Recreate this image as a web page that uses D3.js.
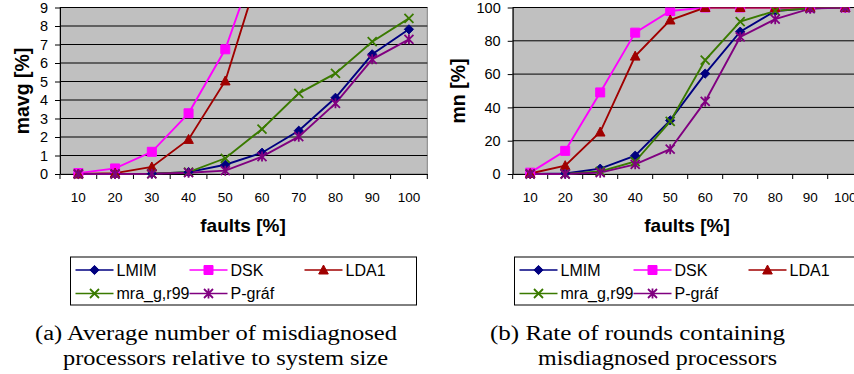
<!DOCTYPE html>
<html>
<head>
<meta charset="utf-8">
<script src="https://cdn.jsdelivr.net/npm/d3@7"></script>
<style>
  body { margin: 0; background: #fff; }
  svg { display: block; }
  text { font-family: "Liberation Sans", Arial, sans-serif; }
</style>
</head>
<body>
<div id="chart"></div>
<script>
// data
var faults = [10, 20, 30, 40, 50, 60, 70, 80, 90, 100];
var seriesNames = ["LMIM", "DSK", "LDA1", "mra_g,r99", "P-gráf"];
var seriesColors = ["#000080", "#ff00ff", "#a00000", "#3a7a00", "#800080"];
var seriesMarks = ["diamond", "square", "triangle", "cross", "star"];

// (a) mavg [%]
var mavgLMIM = [0, 0, 0.02, 0.1, 0.5, 1.15, 2.34, 4.12, 6.47, 7.82];
var mavgDSK  = [0.05, 0.3, 1.2, 3.28, 6.74, 12.4, 18, 24, 30, 36];
var mavgLDA1 = [0, 0.05, 0.38, 1.87, 5.03, 11.4, 17, 23, 29, 35];
var mavgMra  = [0, 0, 0.02, 0.1, 0.85, 2.43, 4.36, 5.44, 7.15, 8.41];
var mavgPgraf = [0, 0, 0.01, 0.07, 0.18, 0.94, 2.02, 3.82, 6.2, 7.28];
var mavgTicks = [0, 1, 2, 3, 4, 5, 6, 7, 8, 9];

// (b) mn [%]
var mnLMIM = [0, 0.3, 3.2, 11, 32.2, 60.3, 85.5, 97.9, 99.5, 100];
var mnDSK  = [0.8, 13.9, 49, 84.9, 97.9, 100, 100, 100, 100, 100];
var mnLDA1 = [0.3, 5, 25.2, 70.8, 92.5, 100, 100, 100, 100, 100];
var mnMra  = [0, 0, 1.5, 7.5, 31.6, 68.4, 91.5, 98, 99.5, 100];
var mnPgraf = [0, 0, 0.8, 5.8, 14.9, 43.6, 82.3, 93, 99.3, 100];
var mnTicks = [0, 20, 40, 60, 80, 100];

var svg = d3.select("#chart").append("svg")
  .attr("width", 854)
  .attr("height", 374);

function markPath(kind) {
  if (kind == "diamond") return "M0,-4.6L4.6,0L0,4.6L-4.6,0Z";
  if (kind == "square") return "M-4.5,-4.5H4.5V4.5H-4.5Z";
  if (kind == "triangle") return "M0,-5L4.8,4H-4.8Z";
  if (kind == "cross") return "M-4.5,-4.5L4.5,4.5M4.5,-4.5L-4.5,4.5";
  return "M-4.5,-4.5L4.5,4.5M4.5,-4.5L-4.5,4.5M0,-5V5";
}

function drawMark(g, kind, color, px, py) {
  var filled = kind == "diamond" || kind == "square" || kind == "triangle";
  g.append("path")
    .attr("transform", "translate(" + px + "," + py + ")")
    .attr("d", markPath(kind))
    .attr("fill", filled ? color : "none")
    .attr("stroke", color)
    .attr("stroke-width", filled ? 1 : 1.8);
}

function drawChart(opt) {
  var x = d3.scaleBand()
    .domain(faults)
    .range([opt.left, opt.right])
    .padding(0);
  var y = d3.scaleLinear()
    .domain([0, opt.max])
    .range([174, 7.5]);

  var g = svg.append("g");

  // plot background
  g.append("rect")
    .attr("x", opt.left)
    .attr("y", y(opt.max))
    .attr("width", opt.right - opt.left)
    .attr("height", y(0) - y(opt.max))
    .attr("fill", "#c0c0c0")
    .attr("stroke", "#808080")
    .attr("stroke-width", 1);

  // gridlines
  g.selectAll(".grid")
    .data(opt.ticks.slice(1))
    .enter().append("line")
    .attr("x1", opt.left)
    .attr("x2", opt.right)
    .attr("y1", function (d) { return y(d); })
    .attr("y2", function (d) { return y(d); })
    .attr("stroke", "#000")
    .attr("stroke-width", 1);

  // y axis
  var ya = g.append("g")
    .attr("transform", "translate(" + opt.left + ",0)")
    .call(d3.axisLeft(y).tickValues(opt.ticks).tickSizeInner(5).tickSizeOuter(0).tickPadding(7));
  ya.select(".domain").attr("stroke", "#000");
  ya.selectAll("text").attr("font-size", 14.5).attr("font-family", "Liberation Sans, Arial, sans-serif");

  // x axis: labels at band centres, ticks at band edges
  var xa = g.append("g")
    .attr("transform", "translate(0," + y(0) + ")")
    .call(d3.axisBottom(x).tickSize(0).tickPadding(18));
  xa.select(".domain").attr("stroke", "#000");
  xa.selectAll("text").attr("font-size", 13.5).attr("font-family", "Liberation Sans, Arial, sans-serif");
  var edges = faults.map(function (d) { return x(d); }).concat([opt.right]);
  g.selectAll(".xt")
    .data(edges)
    .enter().append("line")
    .attr("x1", function (d) { return d; })
    .attr("x2", function (d) { return d; })
    .attr("y1", y(0))
    .attr("y2", y(0) + 5)
    .attr("stroke", "#000");

  // series
  var clipId = "clip" + opt.id;
  svg.append("clipPath").attr("id", clipId)
    .append("rect")
    .attr("x", opt.left - 8)
    .attr("y", y(opt.max))
    .attr("width", opt.right - opt.left + 16)
    .attr("height", y(0) - y(opt.max) + 8);

  var plot = g.append("g").attr("clip-path", "url(#" + clipId + ")");
  var line = d3.line()
    .x(function (d, i) { return x(faults[i]) + x.bandwidth() / 2; })
    .y(function (d) { return y(d); });

  opt.series.forEach(function (vals, k) {
    plot.append("path")
      .attr("d", line(vals))
      .attr("fill", "none")
      .attr("stroke", seriesColors[k])
      .attr("stroke-width", 1.9);
  });
  opt.series.forEach(function (vals, k) {
    vals.forEach(function (v, i) {
      if (v > opt.max) return;
      drawMark(plot, seriesMarks[k], seriesColors[k], x(faults[i]) + x.bandwidth() / 2, y(v));
    });
  });

  // axis titles
  g.append("text")
    .attr("transform", "translate(" + opt.ytx + ",91) rotate(-90)")
    .attr("text-anchor", "middle")
    .attr("dy", "0.35em")
    .attr("font-size", 19.5)
    .attr("font-weight", "bold")
    .text(opt.ytitle);
  g.append("text")
    .attr("x", opt.xtx)
    .attr("y", 225)
    .attr("text-anchor", "middle")
    .attr("dy", "0.35em")
    .attr("font-size", 19)
    .attr("font-weight", "bold")
    .text("faults [%]");

  // legend
  var lg = g.append("g").attr("transform", "translate(" + opt.legX + ",257)");
  lg.append("rect")
    .attr("x", 0).attr("y", 0)
    .attr("width", 346).attr("height", 48)
    .attr("fill", "#fff")
    .attr("stroke", "#000")
    .attr("stroke-width", 1);
  var colX = [5, 119, 234];
  seriesNames.forEach(function (name, k) {
    var cx = colX[k % 3], cy = k < 3 ? 13 : 36.5;
    lg.append("line")
      .attr("x1", cx).attr("x2", cx + 38)
      .attr("y1", cy).attr("y2", cy)
      .attr("stroke", seriesColors[k])
      .attr("stroke-width", 1.6);
    drawMark(lg, seriesMarks[k], seriesColors[k], cx + 19, cy);
    lg.append("text")
      .attr("x", cx + 41)
      .attr("y", cy)
      .attr("dy", "0.36em")
      .attr("font-size", 16)
      .text(name);
  });

  // caption
  opt.caption.forEach(function (c, i) {
    svg.append("text")
      .attr("x", c[1])
      .attr("y", 340 + i * 25)
      .attr("font-size", 20)
      .attr("textLength", c[2])
      .attr("lengthAdjust", "spacingAndGlyphs")
      .style("font-family", "'Liberation Serif', serif")
      .text(c[0]);
  });
}

drawChart({
  id: "a", left: 60, right: 427.3, max: 9, ticks: mavgTicks,
  series: [mavgLMIM, mavgDSK, mavgLDA1, mavgMra, mavgPgraf],
  ytitle: "mavg [%]", ytx: 22, xtx: 243, legX: 70.5,
  caption: [["(a) Average number of misdiagnosed", 35, 362],
            ["processors relative to system size", 63, 325]]
});

drawChart({
  id: "b", left: 512.7, right: 862.7, max: 100, ticks: mnTicks,
  series: [mnLMIM, mnDSK, mnLDA1, mnMra, mnPgraf],
  ytitle: "mn [%]", ytx: 458, xtx: 687, legX: 514.5,
  caption: [["(b) Rate of rounds containing", 490, 295],
            ["misdiagnosed processors", 538, 239]]
});
</script>
</body>
</html>
